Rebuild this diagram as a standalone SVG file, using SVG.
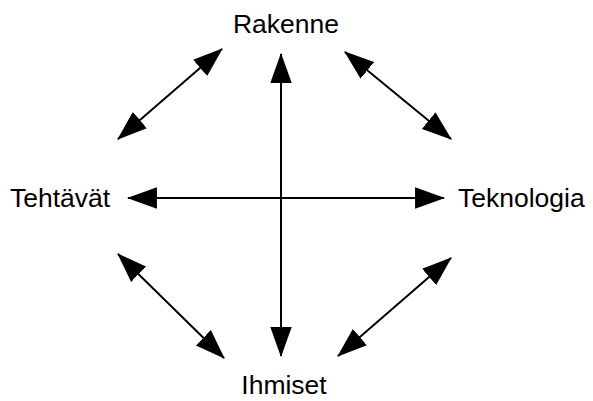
<svg xmlns="http://www.w3.org/2000/svg" width="593" height="401" viewBox="0 0 593 401">
<style>
.lbl{font-family:"Liberation Sans",Arial,sans-serif;font-size:26.5px;fill:#000}
.c line{stroke:#000;stroke-width:2;marker-start:url(#ah);marker-end:url(#ah)}
</style>
<defs>
<marker id="ah" markerUnits="userSpaceOnUse" markerWidth="30" markerHeight="22" viewBox="0 0 28 20" refX="27" refY="10" orient="auto-start-reverse">
<path d="M0,0 L28,10 L0,20 Z" fill="#000"/>
</marker>
</defs>
<rect width="593" height="401" fill="#fff"/>
<g id="rakenne"><text class="lbl" x="286" y="33" text-anchor="middle">Rakenne</text></g>
<g id="tehtavat"><text class="lbl" x="10" y="207">Tehtävät</text></g>
<g id="teknologia"><text class="lbl" x="458" y="207">Teknologia</text></g>
<g id="ihmiset"><text class="lbl" x="284" y="394" text-anchor="middle">Ihmiset</text></g>
<g class="c" id="connectors">
<line x1="281" y1="54" x2="281" y2="356"/>
<line x1="128" y1="198" x2="444" y2="198"/>
<line x1="222" y1="49" x2="118" y2="139"/>
<line x1="345" y1="52" x2="451" y2="139"/>
<line x1="118" y1="254" x2="224" y2="358"/>
<line x1="451" y1="258" x2="338" y2="356"/>
</g>
</svg>
